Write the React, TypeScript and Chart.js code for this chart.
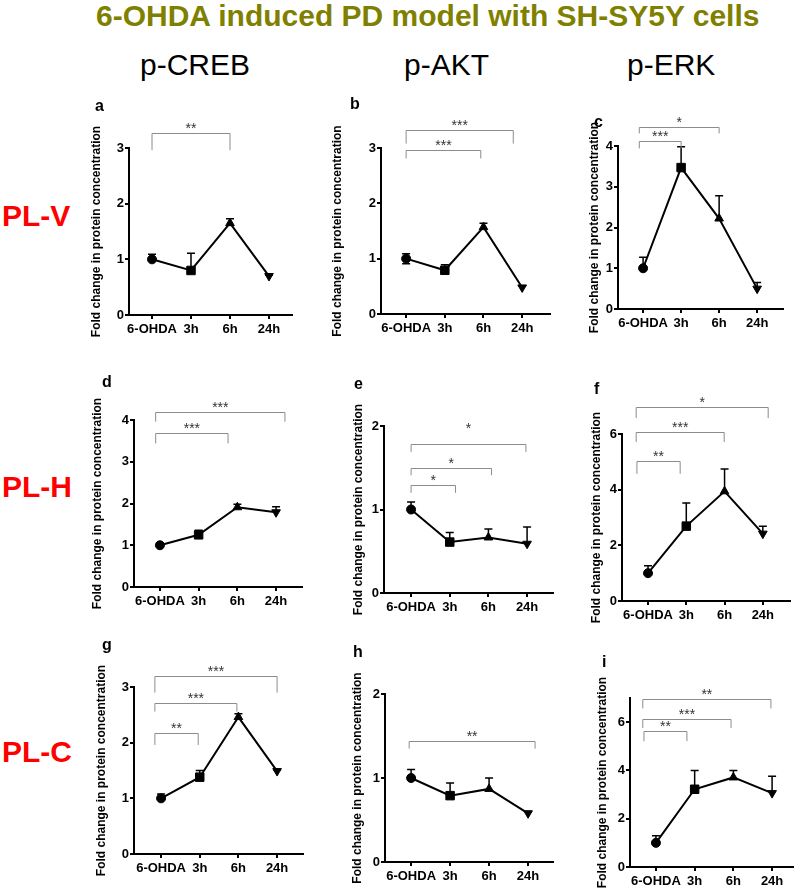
import React, { useEffect, useRef } from "react";
import { Chart, registerables } from "chart.js";

Chart.register(...registerables);

// ---------- text ----------
const mainTitle = "6-OHDA induced PD model with SH-SY5Y cells";
const columnHeaders = ["p-CREB", "p-AKT", "p-ERK"];
const rowLabels = ["PL-V", "PL-H", "PL-C"];
const panelLetters = ["a", "b", "c", "d", "e", "f", "g", "h", "i"];
const categories = ["6-OHDA", "3h", "6h", "24h"];
const yAxisTitle = "Fold change in protein concentration";

// ---------- data (means, upper/lower error, significance brackets) ----------
const meansA = [1.0, 0.8, 1.65, 0.7];
const errUpA = [0.09, 0.31, 0.08, 0.02];
const errDnA = [0, 0, 0, 0];
const bracketsA = [{ from: 0, to: 2, top: 3.27, leg: 2.96, label: "**" }];

const meansB = [1.0, 0.79, 1.57, 0.48];
const errUpB = [0.09, 0.1, 0.07, 0.02];
const errDnB = [0.09, 0, 0, 0];
const bracketsB = [
  { from: 0, to: 2.77, top: 3.33, leg: 3.08, label: "***" },
  { from: 0, to: 1.93, top: 2.96, leg: 2.81, label: "***" },
];

const meansC = [1.0, 3.47, 2.22, 0.5];
const errUpC = [0.27, 0.51, 0.56, 0.15];
const errDnC = [0, 0, 0, 0];
const bracketsC = [
  { from: -0.1, to: 2, top: 4.46, leg: 4.31, label: "*" },
  { from: -0.1, to: 1, top: 4.13, leg: 3.94, label: "***" },
];

const meansD = [1.0, 1.25, 1.91, 1.79];
const errUpD = [0.06, 0.11, 0.07, 0.13];
const errDnD = [0, 0, 0, 0];
const bracketsD = [
  { from: -0.11, to: 3.23, top: 4.18, leg: 3.96, label: "***" },
  { from: -0.11, to: 1.76, top: 3.68, leg: 3.44, label: "***" },
];

const meansE = [1.0, 0.61, 0.665, 0.59];
const errUpE = [0.09, 0.115, 0.1, 0.2];
const errDnE = [0, 0, 0, 0];
const bracketsE = [
  { from: 0, to: 2.97, top: 1.79, leg: 1.69, label: "*", labelAt: 2.01 },
  { from: 0, to: 2.08, top: 1.5, leg: 1.41, label: "*" },
  { from: 0, to: 1.15, top: 1.29, leg: 1.2, label: "*" },
];

const meansF = [1.0, 2.69, 3.94, 2.42];
const errUpF = [0.27, 0.83, 0.8, 0.27];
const errDnF = [0, 0, 0, 0];
const bracketsF = [
  { from: -0.31, to: 3.14, top: 6.97, leg: 6.57, label: "*" },
  { from: -0.31, to: 1.99, top: 6.07, leg: 5.71, label: "***" },
  { from: -0.29, to: 0.84, top: 5.03, leg: 4.57, label: "**" },
];

const meansG = [1.0, 1.38, 2.46, 1.49];
const errUpG = [0.08, 0.12, 0.06, 0.02];
const errDnG = [0, 0, 0, 0];
const bracketsG = [
  { from: -0.16, to: 3.0, top: 3.19, leg: 2.9, label: "***" },
  { from: -0.16, to: 1.96, top: 2.71, leg: 2.56, label: "***" },
  { from: -0.16, to: 0.96, top: 2.18, leg: 1.96, label: "**" },
];

const meansH = [1.0, 0.79, 0.87, 0.58];
const errUpH = [0.1, 0.15, 0.13, 0.02];
const errDnH = [0, 0, 0, 0];
const bracketsH = [{ from: -0.05, to: 3.18, top: 1.44, leg: 1.35, label: "**" }];

const meansI = [1.0, 3.22, 3.71, 3.06];
const errUpI = [0.29, 0.78, 0.29, 0.7];
const errDnI = [0, 0, 0, 0];
const bracketsI = [
  { from: -0.34, to: 2.97, top: 6.94, leg: 6.57, label: "**" },
  { from: -0.34, to: 1.94, top: 6.14, leg: 5.76, label: "***" },
  { from: -0.31, to: 0.8, top: 5.63, leg: 5.21, label: "**" },
];

const yMaxes = [3, 3, 4, 4, 2, 6, 3, 2, 7];
const ySteps = [1, 1, 1, 1, 1, 2, 1, 1, 2];

// ---------- layout (pixel geometry of each panel's plot area) ----------
const layouts = [
  { L: 129, R: 292, T: 148, B: 315, Wy: 40, xMin: -0.59, xMax: 3.59 },
  { L: 381, R: 550, T: 148, B: 314, Wy: 51, xMin: -0.65, xMax: 3.72 },
  { L: 618, R: 783, T: 146, B: 309, Wy: 31, xMin: -0.66, xMax: 3.68 },
  { L: 134, R: 302, T: 420, B: 587, Wy: 44, xMin: -0.67, xMax: 3.67 },
  { L: 384, R: 553, T: 426, B: 593, Wy: 33, xMin: -0.7, xMax: 3.67 },
  { L: 622, R: 790, T: 434, B: 601, Wy: 33, xMin: -0.68, xMax: 3.71 },
  { L: 134, R: 303, T: 687, B: 854, Wy: 40, xMin: -0.7, xMax: 3.67 },
  { L: 385, R: 553, T: 694, B: 862, Wy: 35, xMin: -0.67, xMax: 3.64 },
  { L: 630, R: 793, T: 698, B: 867, Wy: 35, xMin: -0.67, xMax: 3.54 },
];
const letterPos = [
  [95, 98], [350, 96], [594, 114],
  [102, 374], [354, 376], [594, 381],
  [102, 637], [353, 644], [602, 654],
];
const headerPos = [140, 404, 627];
const rowTops = [201, 472, 737];

const PAD_TOP = 75;
const PAD_RIGHT = 10;
const PAD_BOTTOM = 8;
const HX = 25;
const FONT = "'Liberation Sans', Arial, Helvetica, sans-serif";

const panelData = [
  { means: meansA, up: errUpA, dn: errDnA, br: bracketsA },
  { means: meansB, up: errUpB, dn: errDnB, br: bracketsB },
  { means: meansC, up: errUpC, dn: errDnC, br: bracketsC },
  { means: meansD, up: errUpD, dn: errDnD, br: bracketsD },
  { means: meansE, up: errUpE, dn: errDnE, br: bracketsE },
  { means: meansF, up: errUpF, dn: errDnF, br: bracketsF },
  { means: meansG, up: errUpG, dn: errDnG, br: bracketsG },
  { means: meansH, up: errUpH, dn: errDnH, br: bracketsH },
  { means: meansI, up: errUpI, dn: errDnI, br: bracketsI },
];

function Panel({ idx }: { idx: number }) {
  const ref = useRef<HTMLCanvasElement>(null);
  const lay = layouts[idx];
  const x0 = lay.L - lay.Wy;
  const y0 = lay.T - PAD_TOP;
  const w = lay.R - x0 + PAD_RIGHT;
  const h = lay.B - y0 + HX + PAD_BOTTOM;

  useEffect(() => {
    const d = panelData[idx];
    const annot = {
      id: "annot" + idx,
      beforeDatasetsDraw(chart: any) {
        const { ctx } = chart;
        const xs = chart.scales.x;
        const ys = chart.scales.y;
        ctx.save();
        ctx.strokeStyle = "#000";
        ctx.lineWidth = 1.5;
        d.means.forEach((m: number, i: number) => {
          const px = xs.getPixelForValue(i);
          const pm = ys.getPixelForValue(m);
          const ends: number[] = [];
          if (d.up[i] > 0) ends.push(ys.getPixelForValue(m + d.up[i]));
          if (d.dn[i] > 0) ends.push(ys.getPixelForValue(m - d.dn[i]));
          ends.forEach((e) => {
            ctx.beginPath();
            ctx.moveTo(px, pm);
            ctx.lineTo(px, e);
            ctx.moveTo(px - 4, e);
            ctx.lineTo(px + 4, e);
            ctx.stroke();
          });
        });
        ctx.restore();
      },
      afterDraw(chart: any) {
        const { ctx } = chart;
        const xs = chart.scales.x;
        const ys = chart.scales.y;
        ctx.save();
        d.br.forEach((b: any) => {
          const x1 = xs.getPixelForValue(b.from);
          const x2 = xs.getPixelForValue(b.to);
          const yt = Math.round(ys.getPixelForValue(b.top)) + 0.5;
          const yl = ys.getPixelForValue(b.leg);
          ctx.strokeStyle = "#8c8c8c";
          ctx.lineWidth = 1;
          ctx.beginPath();
          ctx.moveTo(x1, yl);
          ctx.lineTo(x1, yt);
          ctx.lineTo(x2, yt);
          ctx.lineTo(x2, yl);
          ctx.stroke();
          ctx.fillStyle = "#333";
          ctx.font = `14px ${FONT}`;
          ctx.textAlign = "center";
          ctx.textBaseline = "alphabetic";
          const ly = b.labelAt !== undefined ? ys.getPixelForValue(b.labelAt) + 8 : yt - 1;
          ctx.fillText(b.label, (x1 + x2) / 2, ly);
        });
        ctx.restore();
      },
    };

    const axisGrid = {
      drawOnChartArea: false,
      drawTicks: true,
      tickLength: 4,
      color: "#000",
      lineWidth: 2,
    };

    const chart = new Chart(ref.current as HTMLCanvasElement, {
      type: "line",
      data: {
        datasets: [
          {
            data: d.means.map((v: number, i: number) => ({ x: i, y: v })),
            borderColor: "#000",
            borderWidth: 2,
            backgroundColor: "#000",
            pointStyle: ["circle", "rect", "triangle", "triangle"],
            pointRotation: [0, 0, 0, 180],
            pointRadius: [4.5, 6, 5, 5],
            pointBackgroundColor: "#000",
            pointBorderColor: "#000",
            pointBorderWidth: 1,
            tension: 0,
            fill: false,
          } as any,
        ],
      },
      options: {
        animation: false,
        responsive: false,
        devicePixelRatio: 1,
        events: [],
        layout: { padding: { left: 0, top: PAD_TOP, right: PAD_RIGHT, bottom: PAD_BOTTOM } },
        plugins: { legend: { display: false }, tooltip: { enabled: false } },
        scales: {
          x: {
            type: "linear",
            min: lay.xMin,
            max: lay.xMax,
            afterBuildTicks: (s: any) => {
              s.ticks = categories.map((_, i) => ({ value: i }));
            },
            afterFit: (s: any) => {
              s.height = HX;
            },
            ticks: {
              callback: (v: any) => categories[Math.round(Number(v))] ?? "",
              font: { family: FONT, size: 13, weight: "bold" },
              color: "#000",
              padding: 3,
              autoSkip: false,
              maxRotation: 0,
            },
            grid: axisGrid,
            border: { color: "#000", width: 2 },
          },
          y: {
            min: 0,
            max: yMaxes[idx],
            afterFit: (s: any) => {
              s.width = lay.Wy;
            },
            ticks: {
              stepSize: ySteps[idx],
              includeBounds: false,
              font: { family: FONT, size: 13, weight: "bold" },
              color: "#000",
              padding: 1,
            },
            grid: axisGrid,
            border: { color: "#000", width: 2 },
            title: {
              display: true,
              text: yAxisTitle,
              font: { family: FONT, size: 12, weight: "bold" },
              color: "#000",
              padding: 0,
            },
          },
        },
      } as any,
      plugins: [annot],
    });
    return () => chart.destroy();
  }, [idx]);

  return (
    <canvas
      ref={ref}
      width={w}
      height={h}
      style={{ position: "absolute", left: x0, top: y0, width: w, height: h }}
    />
  );
}

export default function App() {
  const txt = (extra: React.CSSProperties): React.CSSProperties => ({
    position: "absolute",
    whiteSpace: "nowrap",
    lineHeight: 1,
    fontFamily: FONT,
    ...extra,
  });
  return (
    <div
      style={{
        position: "absolute",
        left: 0,
        top: 0,
        width: 800,
        height: 891,
        background: "#fff",
        overflow: "hidden",
      }}
    >
      <div
        style={txt({
          left: 96,
          top: 1,
          fontSize: 30,
          fontWeight: "bold",
          color: "#808000",
        })}
      >
        {mainTitle}
      </div>
      {columnHeaders.map((t, i) => (
        <div
          key={t}
          style={txt({
            left: headerPos[i],
            top: 50,
            fontSize: 30,
            color: "#000",
          })}
        >
          {t}
        </div>
      ))}
      {rowLabels.map((t, i) => (
        <div
          key={t}
          style={txt({ left: 2, top: rowTops[i], fontSize: 30, fontWeight: "bold", color: "#ff0000" })}
        >
          {t}
        </div>
      ))}
      {panelData.map((_, i) => (
        <Panel key={i} idx={i} />
      ))}
      {panelLetters.map((t, i) => (
        <div
          key={t}
          style={txt({
            left: letterPos[i][0],
            top: letterPos[i][1],
            fontSize: 16,
            fontWeight: "bold",
            color: "#000",
          })}
        >
          {t}
        </div>
      ))}
    </div>
  );
}
